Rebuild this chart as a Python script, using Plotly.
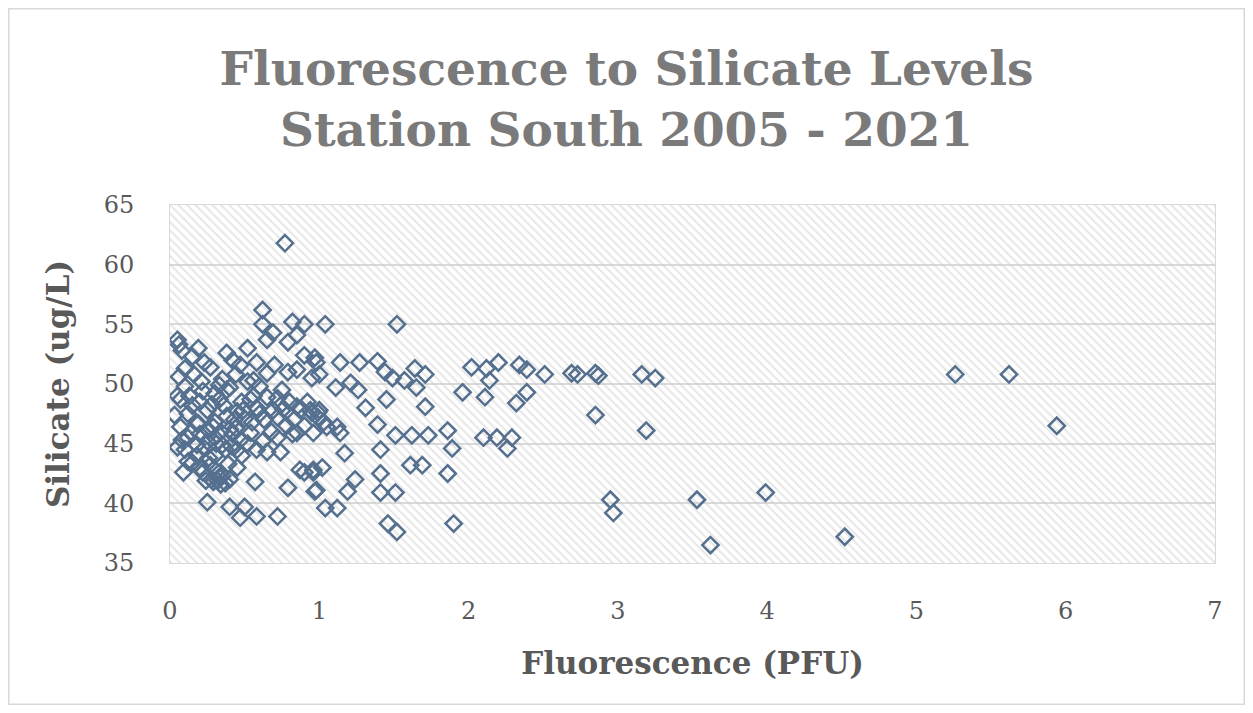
import plotly.graph_objects as go

# Fluorescence (PFU) vs Silicate (ug/L)
fluorescence = [
    0.77, 5.94, 4.52, 3.62, 3.99, 3.53, 2.95, 2.97, 5.26, 5.62,
    0.90, 1.04, 1.52, 0.90, 0.97, 1.14, 1.27, 1.39, 1.44, 1.64,
    1.71, 2.02, 1.96, 1.00, 1.11, 1.21, 1.26, 1.49, 1.57, 1.65,
    1.45, 1.71, 1.31, 0.94, 0.99, 1.12,
    0.96, 1.14, 1.39, 1.51, 1.62, 1.73, 1.86, 1.89, 1.41, 1.17,
    1.61, 1.69, 1.86, 1.41, 0.96, 1.02, 1.24, 1.19, 1.41, 1.51,
    0.97, 1.04, 1.12, 1.46, 1.52, 1.90, 0.90,
    2.12, 2.20, 2.14, 2.11, 2.34, 2.39, 2.51, 2.69, 2.73, 2.85,
    2.87, 3.16, 3.25, 2.39, 2.32, 2.85, 3.19, 2.10, 2.19, 2.29, 2.26,
    0.62, 0.62, 0.82, 0.69, 0.65, 0.79, 0.85, 0.05, 0.08, 0.19,
    0.38, 0.52, 0.10, 0.27, 0.47, 0.58, 0.70, 0.85, 0.98, 0.65,
    0.79, 0.56, 0.21, 0.33, 0.40, 0.49, 0.54, 0.65, 0.72, 0.15,
    0.07, 0.33, 0.85, 0.95, 0.03, 0.18, 0.50, 0.72, 0.99,
    0.07, 0.19, 0.29, 0.44, 0.54, 0.72, 0.85, 1.05, 0.05, 0.18,
    0.35, 0.45, 0.65, 0.74, 0.15, 0.09, 0.22, 0.33, 0.37, 0.57,
    0.79, 0.87, 0.96, 0.98, 0.25, 0.40, 0.50, 0.47, 0.58, 0.72,
    0.12, 0.25, 0.30, 0.28, 0.32, 0.35, 0.40, 0.12, 0.25, 0.38,
    0.42, 0.27, 0.18, 0.08, 0.30, 0.45, 0.35, 0.23, 0.15, 0.06,
    0.42, 0.30, 0.48, 0.55, 0.60, 0.62, 0.68, 0.76, 0.78, 0.82,
    0.88, 0.60, 0.75, 0.80, 0.95, 0.58, 0.52, 0.10, 0.05,
    0.10, 0.14, 0.20, 0.23, 0.26, 0.31, 0.34, 0.37, 0.41, 0.43,
    0.36, 0.28, 0.20, 0.13, 0.22, 0.30, 0.38, 0.44, 0.16, 0.06,
    0.26, 0.20, 0.12, 0.31, 0.39, 0.45, 0.29, 0.34, 0.24, 0.52,
    0.58, 0.47, 0.40, 0.48, 0.56, 0.63, 0.69, 0.74, 0.83, 0.90,
    0.92, 1.00, 1.03,
]
silicate = [
    61.8, 46.5, 37.2, 36.5, 40.9, 40.3, 40.3, 39.2, 50.8, 50.8,
    55.0, 55.0, 55.0, 52.4, 52.2, 51.8, 51.8, 51.9, 51.0, 51.3,
    50.8, 51.4, 49.3, 50.8, 49.7, 50.1, 49.5, 50.5, 50.3, 49.7,
    48.7, 48.1, 48.0, 47.8, 47.6, 46.4,
    45.9, 45.9, 46.6, 45.7, 45.7, 45.7, 46.1, 44.6, 44.5, 44.2,
    43.2, 43.2, 42.5, 42.5, 42.8, 43.0, 42.0, 41.0, 40.9, 40.9,
    41.0, 39.6, 39.6, 38.3, 37.6, 38.3, 42.6,
    51.3, 51.8, 50.3, 48.9, 51.6, 51.2, 50.8, 50.9, 50.8, 50.9,
    50.7, 50.8, 50.5, 49.3, 48.4, 47.4, 46.1, 45.5, 45.5, 45.5, 44.6,
    56.2, 55.0, 55.2, 54.3, 53.7, 53.5, 54.1, 53.7, 52.8, 53.0,
    52.6, 53.0, 51.3, 51.4, 51.6, 51.8, 51.6, 51.2, 51.8, 50.9,
    51.0, 50.3, 50.2, 49.9, 49.7, 47.8, 48.7, 48.9, 48.8, 48.2,
    48.7, 48.7, 48.1, 47.6, 47.4, 46.7, 47.1, 47.2, 47.2,
    46.4, 46.7, 46.4, 46.3, 45.9, 45.5, 45.9, 46.4, 44.7, 44.9,
    44.9, 44.5, 44.3, 44.3, 43.4, 42.6, 42.6, 42.2, 41.7, 41.8,
    41.3, 42.8, 42.6, 41.1, 40.1, 39.7, 39.7, 38.8, 38.9, 38.9,
    45.5, 45.2, 44.0, 42.0, 41.9, 42.3, 42.0, 47.5, 47.8, 47.3,
    45.8, 43.2, 44.0, 45.3, 46.8, 47.7, 50.4, 51.8, 52.3, 53.3,
    52.0, 45.5, 44.0, 46.8, 47.5, 45.2, 46.0, 47.9, 46.5, 45.8,
    47.9, 49.8, 49.5, 48.5, 50.5, 48.0, 50.2, 49.8, 49.0,
    44.5, 46.0, 45.8, 44.6, 46.1, 45.0, 46.0, 44.5, 44.8, 47.0,
    48.2, 48.3, 48.5, 49.0, 49.4, 49.2, 49.5, 50.8, 50.8, 50.6,
    43.8, 43.0, 43.5, 42.7, 43.3, 43.0, 41.8, 41.6, 41.9, 45.0,
    44.5, 45.3, 46.2, 48.5, 49.0, 47.0, 47.8, 48.2, 47.0, 46.5,
    48.5, 47.8, 46.8,
]

x_range = [0, 7]
y_range = [35, 65]

SERIF = "DejaVu Serif"
GREY = "#595959"
MARK = "#55708f"

# page body has an 8px margin, so the figure is 16px smaller than the window
W, H = 1237, 697
ML, MR, MT, MB = 162, 30, 197, 142
PW, PH = W - ML - MR, H - MT - MB

fig = go.Figure()

# hatched plot-area background (Excel "light downward diagonal" fill)
fig.add_trace(go.Bar(
    x=[(x_range[0] + x_range[1]) / 2],
    y=[y_range[1] - y_range[0]],
    base=[y_range[0]],
    width=[x_range[1] - x_range[0]],
    marker=dict(
        color="rgba(0,0,0,0)",
        line=dict(width=0),
        pattern=dict(shape="\\", fgcolor="#cdcdcd", bgcolor="rgba(0,0,0,0)",
                     size=6, solidity=0.32),
    ),
    hoverinfo="skip",
    showlegend=False,
))

fig.add_trace(go.Scatter(
    x=fluorescence,
    y=silicate,
    mode="markers",
    marker=dict(symbol="diamond-open", size=12.5, color=MARK,
                line=dict(width=2.5, color=MARK)),
    showlegend=False,
))

fig.update_layout(
    width=W,
    height=H,
    margin=dict(l=ML, r=MR, t=MT, b=MB),
    paper_bgcolor="white",
    plot_bgcolor="white",
    title=dict(
        text="Fluorescence to Silicate Levels<br>Station South 2005 - 2021",
        font=dict(family=SERIF, size=47, color="#7a7a7a", weight="bold"),
        x=0.5, xanchor="center",
        y=1 - 77 / H, yanchor="middle",
    ),
    xaxis=dict(
        range=x_range, dtick=1, showgrid=False, zeroline=False,
        showline=True, linecolor="#d9d9d9", linewidth=1, mirror=True,
        tickfont=dict(family=SERIF, size=24, color=GREY),
        ticklabelstandoff=26,
        title=dict(text="Fluorescence (PFU)", standoff=28,
                   font=dict(family=SERIF, size=31, color=GREY, weight="bold")),
    ),
    yaxis=dict(
        range=y_range, dtick=5, showgrid=True, gridcolor="#d9d9d9", gridwidth=2,
        zeroline=False, showline=True, linecolor="#d9d9d9", linewidth=1, mirror=True,
        tickfont=dict(family=SERIF, size=24, color=GREY),
        ticklabelstandoff=30,
        title=dict(text="Silicate (ug/L)", standoff=24,
                   font=dict(family=SERIF, size=31, color=GREY, weight="bold")),
    ),
    shapes=[dict(
        type="rect", xref="paper", yref="paper",
        x0=-(ML - 0.75) / PW, x1=1 + (MR - 0.75) / PW,
        y0=-(MB - 0.75) / PH, y1=1 + (MT - 0.75) / PH,
        line=dict(color="#d9d9d9", width=1.5), layer="below",
    )],
)

fig.write_html("out.html")
